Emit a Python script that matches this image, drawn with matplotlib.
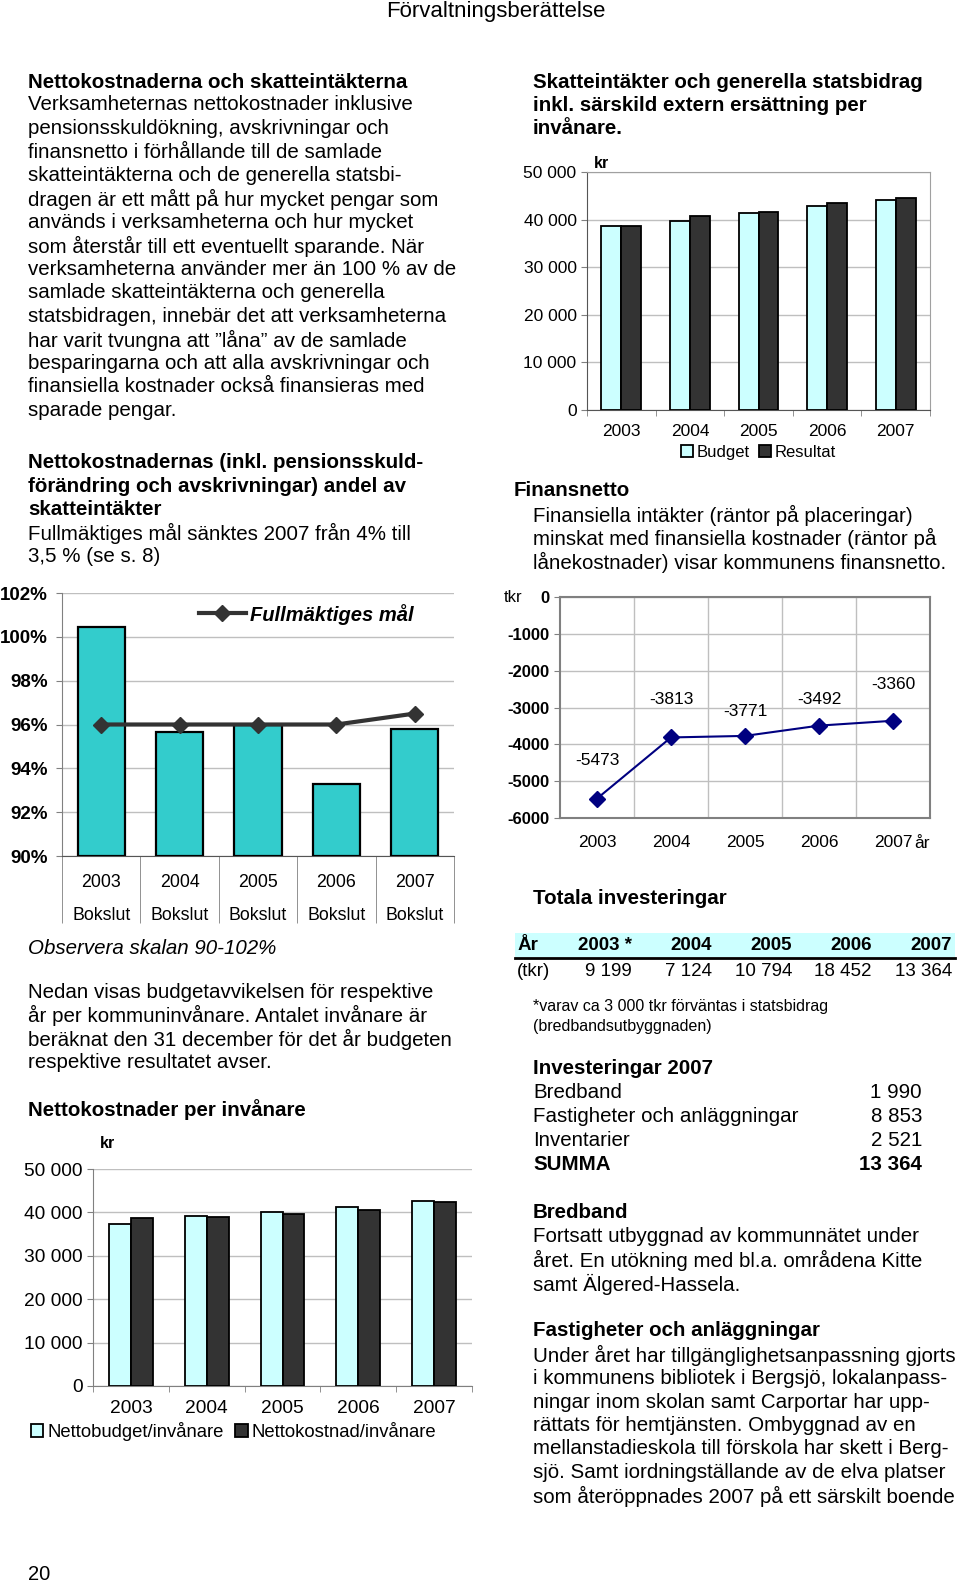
import matplotlib
matplotlib.use("Agg")
import matplotlib.pyplot as plt
from matplotlib.ticker import FuncFormatter
from matplotlib.patches import Rectangle
from matplotlib.lines import Line2D

plt.rcParams['font.family'] = ['Liberation Sans', 'DejaVu Sans']
plt.rcParams['axes.unicode_minus'] = False

# data
years = ['2003', '2004', '2005', '2006', '2007']
skatt_budget = [38600, 39700, 41400, 42900, 44100]
skatt_resultat = [38700, 40800, 41500, 43500, 44500]
andel = [100.45, 95.65, 96.0, 93.3, 95.8]
mal = [96.0, 96.0, 96.0, 96.0, 96.5]
finansnetto = [-5473, -3813, -3771, -3492, -3360]
netto_budget = [37300, 39200, 40000, 41200, 42600]
netto_kostnad = [38800, 39000, 39700, 40600, 42500]
invest_years = ['2003 *', '2004', '2005', '2006', '2007']
invest_tkr = [9199, 7124, 10794, 18452, 13364]
inv2007_items = ['Bredband', 'Fastigheter och anläggningar', 'Inventarier']
inv2007_values = [1990, 8853, 2521]

W, H = 960, 1586
fig = plt.figure(figsize=(W / 100, H / 100), dpi=100)

LIGHT = '#CCFFFF'
DARK = '#333333'
TEAL = '#33CCCC'
GRID = '#BFBFBF'
BODY = 14.8


def fmt(v):
    return f"{v:,}".replace(',', ' ')


def put(x, y, s, size=BODY, weight='normal', style='normal', ha='left'):
    fig.text(x / W, 1 - y / H, s, fontsize=size, fontweight=weight,
             fontstyle=style, ha=ha, va='center')


def block(x, y0, lines, step=23.5, **kw):
    for i, s in enumerate(lines):
        put(x, y0 + i * step, s, **kw)


def axes_px(x0, y0, x1, y1):
    return fig.add_axes([x0 / W, 1 - y1 / H, (x1 - x0) / W, (y1 - y0) / H])


# header / page number
put(496, 11, 'Förvaltningsberättelse', size=16, ha='center')
put(28, 1575, '20', size=14.5)

# left column text
put(28, 82, 'Nettokostnaderna och skatteintäkterna', weight='bold')
block(28, 105, [
    'Verksamheternas nettokostnader inklusive',
    'pensionsskuldökning, avskrivningar och',
    'finansnetto i förhållande till de samlade',
    'skatteintäkterna och de generella statsbi-',
    'dragen är ett mått på hur mycket pengar som',
    'används i verksamheterna och hur mycket',
    'som återstår till ett eventuellt sparande. När',
    'verksamheterna använder mer än 100 % av de',
    'samlade skatteintäkterna och generella',
    'statsbidragen, innebär det att verksamheterna',
    'har varit tvungna att ”låna” av de samlade',
    'besparingarna och att alla avskrivningar och',
    'finansiella kostnader också finansieras med',
    'sparade pengar.',
])
block(28, 463, [
    'Nettokostnadernas (inkl. pensionsskuld-',
    'förändring och avskrivningar) andel av',
    'skatteintäkter',
], step=23.3, weight='bold')
block(28, 533, ['Fullmäktiges mål sänktes 2007 från 4% till', '3,5 % (se s. 8)'], step=23.3)

put(28, 948, 'Observera skalan 90-102%', style='italic')
block(28, 992, [
    'Nedan visas budgetavvikelsen för respektive',
    'år per kommuninvånare. Antalet invånare är',
    'beräknat den 31 december för det år budgeten',
    'respektive resultatet avser.',
])
put(28, 1110, 'Nettokostnader per invånare', weight='bold')

# right column text
block(533, 82, [
    'Skatteintäkter och generella statsbidrag',
    'inkl. särskild extern ersättning per',
    'invånare.',
], step=23.3, weight='bold')
put(514, 490, 'Finansnetto', weight='bold')
block(533, 515, [
    'Finansiella intäkter (räntor på placeringar)',
    'minskat med finansiella kostnader (räntor på',
    'lånekostnader) visar kommunens finansnetto.',
])
put(533, 899, 'Totala investeringar', weight='bold')

# investment table
fig.patches.append(Rectangle((515 / W, 1 - 957 / H), 440 / W, 24 / H,
                             transform=fig.transFigure, facecolor=LIGHT,
                             edgecolor='none', zorder=0))
fig.lines.append(Line2D([515 / W, 955 / W], [1 - 958 / H, 1 - 958 / H],
                        transform=fig.transFigure, color='black', lw=2))
col_x = [632, 712, 792, 872, 952]
put(517, 946, 'År', size=13.5, weight='bold')
put(517, 972, '(tkr)', size=13.5)
for cx, yr, v in zip(col_x, invest_years, invest_tkr):
    put(cx, 946, yr, size=13.5, weight='bold', ha='right')
    put(cx, 972, fmt(v), size=13.5, ha='right')
put(533, 1007, '*varav ca 3 000 tkr förväntas i statsbidrag', size=11.5)
put(533, 1027, '(bredbandsutbyggnaden)', size=11.5)

put(533, 1068, 'Investeringar 2007', weight='bold')
for i, (name, v) in enumerate(zip(inv2007_items, inv2007_values)):
    put(533, 1093 + i * 24, name)
    put(922, 1093 + i * 24, fmt(v), ha='right')
put(533, 1165, 'SUMMA', weight='bold')
put(922, 1165, fmt(sum(inv2007_values)), weight='bold', ha='right')

put(533, 1212, 'Bredband', weight='bold')
block(533, 1237, [
    'Fortsatt utbyggnad av kommunnätet under',
    'året. En utökning med bl.a. områdena Kitte',
    'samt Älgered-Hassela.',
])
put(533, 1330, 'Fastigheter och anläggningar', weight='bold')
block(533, 1355, [
    'Under året har tillgänglighetsanpassning gjorts',
    'i kommunens bibliotek i Bergsjö, lokalanpass-',
    'ningar inom skolan samt Carportar har upp-',
    'rättats för hemtjänsten. Ombyggnad av en',
    'mellanstadieskola till förskola har skett i Berg-',
    'sjö. Samt iordningställande av de elva platser',
    'som återöppnades 2007 på ett särskilt boende',
])

x = list(range(len(years)))
kfmt = FuncFormatter(lambda v, p: fmt(int(v)))


def paired_bars(ax, a, b, labels, fs, legend_y):
    w = 0.29
    ax.bar([i - w / 2 for i in x], a, w, color=LIGHT, edgecolor='black', lw=1.3, zorder=3, label=labels[0])
    ax.bar([i + w / 2 for i in x], b, w, color=DARK, edgecolor='black', lw=1.3, zorder=3, label=labels[1])
    ax.set_xlim(-0.5, 4.5)
    ax.set_ylim(0, 50000)
    ax.set_yticks(range(0, 50001, 10000))
    ax.yaxis.set_major_formatter(kfmt)
    ax.yaxis.grid(True, color=GRID, lw=1)
    ax.set_axisbelow(True)
    ax.set_xticks(x)
    ax.set_xticklabels(years, fontsize=fs)
    ax.set_xticks([i - 0.5 for i in range(6)], minor=True)
    ax.tick_params(axis='x', which='major', length=0, pad=10)
    ax.tick_params(axis='x', which='minor', length=4, color='#808080')
    ax.tick_params(axis='y', labelsize=fs, length=4, color='#808080')
    ax.legend(loc='upper center', bbox_to_anchor=(0.5, legend_y), ncol=2, frameon=False,
              fontsize=fs - 0.5, handlelength=0.7, handleheight=0.7, handletextpad=0.2,
              columnspacing=0.6, borderaxespad=0, borderpad=0)


# chart 1: skatteintäkter per invånare
ax1 = axes_px(587, 172, 930, 410)
paired_bars(ax1, skatt_budget, skatt_resultat, ['Budget', 'Resultat'], 12.5, -0.145)
for s in ['top', 'right']:
    ax1.spines[s].set_color('#A0A0A0')
for s in ['left', 'bottom']:
    ax1.spines[s].set_color('#555555')
put(594, 163, 'kr', size=11.5, weight='bold')

# chart 2: andel av skatteintäkter
ax2 = axes_px(62, 593, 454, 856)
ax2.bar(x, [v - 90 for v in andel], 0.6, bottom=90, color=TEAL, edgecolor='black', lw=1.6, zorder=3)
ax2.plot(x, mal, color=DARK, lw=3, marker='D', markersize=8, zorder=4, label='Fullmäktiges mål')
ax2.set_xlim(-0.5, 4.5)
ax2.set_ylim(90, 102)
ax2.set_yticks(range(90, 103, 2))
ax2.yaxis.set_major_formatter(FuncFormatter(lambda v, p: f"{int(v)}%"))
for t in ax2.get_yticklabels():
    t.set_fontweight('bold')
ax2.tick_params(axis='y', labelsize=13.5, length=4, color='#808080', pad=6)
ax2.yaxis.grid(True, color=GRID, lw=1)
ax2.set_axisbelow(True)
ax2.set_xticks(x)
ax2.set_xticklabels([f"{y}\nBokslut" for y in years], fontsize=12.8, linespacing=2.2)
ax2.set_xticks([i - 0.5 for i in range(6)], minor=True)
ax2.tick_params(axis='x', which='major', length=0, pad=13)
ax2.tick_params(axis='x', which='minor', length=48, color='#808080')
for s in ['top', 'right']:
    ax2.spines[s].set_visible(False)
ax2.spines['left'].set_color('#808080')
ax2.spines['bottom'].set_color('#555555')
ax2.legend(loc='center left', bbox_to_anchor=(0.35, 0.92), frameon=False,
           handlelength=2.3, handletextpad=0.2, borderaxespad=0, borderpad=0,
           prop={'size': 14.5, 'weight': 'bold', 'style': 'italic'})

# chart 3: finansnetto
ax3 = axes_px(560, 597, 930, 818)
ax3.plot(x, finansnetto, color='#000080', lw=1.5, marker='D', markersize=8, zorder=4)
label_dy = [38, 38, 24, 26, 36]
for i, v in enumerate(finansnetto):
    ax3.annotate(str(v), (i, v), xytext=(0, label_dy[i] * 0.72), textcoords='offset points',
                 ha='center', va='center', fontsize=12.5)
ax3.set_xlim(-0.5, 4.5)
ax3.set_ylim(-6000, 0)
ax3.set_yticks(range(-6000, 1, 1000))
for t in ax3.get_yticklabels():
    t.set_fontweight('bold')
ax3.tick_params(axis='y', labelsize=12, length=4, color='#808080')
ax3.set_xticks(x)
ax3.set_xticklabels(years, fontsize=12.5)
ax3.set_xticks([i + 0.5 for i in range(4)], minor=True)
ax3.tick_params(axis='x', which='both', length=0, pad=12)
ax3.yaxis.grid(True, color=GRID, lw=1)
ax3.xaxis.grid(True, which='minor', color=GRID, lw=1)
ax3.set_axisbelow(True)
for s in ax3.spines.values():
    s.set_color('#808080')
    s.set_linewidth(1.5)
put(504, 597, 'tkr', size=12)
put(914, 844, 'år', size=12.5)

# chart 4: nettokostnader per invånare
ax4 = axes_px(93, 1169, 472, 1386)
paired_bars(ax4, netto_budget, netto_kostnad, ['Nettobudget/invånare', 'Nettokostnad/invånare'],
            13.8, -0.165)
ax4.legend_.set_bbox_to_anchor((0.37, -0.165))
for s in ['top', 'right']:
    ax4.spines[s].set_visible(False)
ax4.spines['left'].set_color('#808080')
ax4.spines['bottom'].set_color('#808080')
put(100, 1143, 'kr', size=11.5, weight='bold')

plt.savefig('out.png', dpi=100)
